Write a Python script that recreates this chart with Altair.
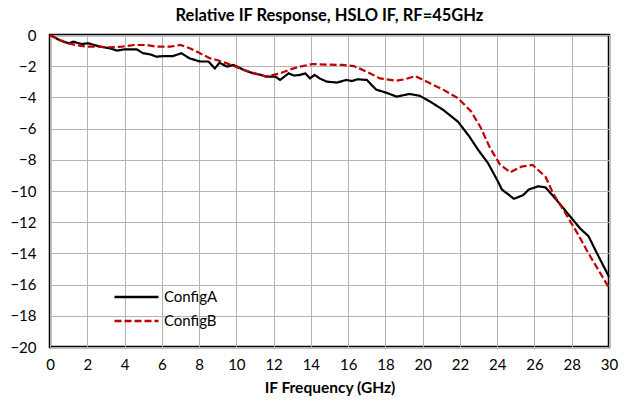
import altair as alt
import pandas as pd

series_names = ["ConfigA", "ConfigB"]

freq_a = [0, 0.5, 1.0, 1.25, 1.7, 2.05, 2.4, 2.7, 3.2, 3.6, 4.0, 4.65, 5.0, 5.4, 5.7, 6.1, 6.6,
          7.05, 7.5, 8.05, 8.5, 8.85, 9.1, 9.5, 9.85, 10.4, 10.9, 11.3, 11.6, 12.1, 12.35, 12.8,
          13.1, 13.4, 13.7, 13.95, 14.2, 14.5, 14.85, 15.4, 15.9, 16.2, 16.5, 17.0, 17.5, 18.05,
          18.6, 19.0, 19.3, 19.85, 20.4, 21.1, 21.9, 22.5, 23.0, 23.5, 24.0, 24.25, 24.9, 25.4,
          25.7, 26.2, 26.6, 27.2, 28.0, 28.45, 28.9, 29.4, 30.0]
resp_a = [0, -0.32, -0.53, -0.43, -0.58, -0.53, -0.65, -0.75, -0.85, -1.0, -0.92, -0.92, -1.17,
          -1.25, -1.39, -1.35, -1.35, -1.17, -1.5, -1.7, -1.7, -2.14, -1.78, -2.03, -1.92, -2.24,
          -2.46, -2.55, -2.67, -2.67, -2.88, -2.46, -2.6, -2.56, -2.46, -2.78, -2.56, -2.8, -2.99,
          -3.05, -2.88, -2.95, -2.84, -2.88, -3.5, -3.7, -3.95, -3.85, -3.78, -3.9, -4.27, -4.8,
          -5.56, -6.5, -7.4, -8.2, -9.3, -9.9, -10.5, -10.26, -9.9, -9.7, -9.77, -10.6, -11.75,
          -12.4, -12.9, -14.1, -15.5]

freq_b = [0, 0.7, 1.35, 2.0, 2.7, 3.2, 3.85, 4.5, 5.2, 5.7, 6.45, 7.0, 7.5, 8.05, 8.6, 8.95, 9.5,
          10.4, 11.6, 12.35, 12.9, 13.4, 14.1, 14.85, 15.7, 16.3, 17.0, 17.7, 18.6, 19.05, 19.6,
          20.4, 21.1, 21.9, 22.6, 23.1, 23.6, 24.15, 24.7, 25.3, 25.9, 26.6, 27.0, 27.7, 28.3,
          28.9, 29.5, 30.0]
resp_b = [0, -0.43, -0.64, -0.75, -0.75, -0.79, -0.75, -0.64, -0.64, -0.75, -0.75, -0.64, -0.85,
          -1.17, -1.5, -1.6, -1.82, -2.24, -2.67, -2.46, -2.2, -2.03, -1.86, -1.9, -1.92, -1.99,
          -2.35, -2.78, -2.93, -2.84, -2.63, -3.1, -3.5, -4.06, -4.9, -5.9, -7.2, -8.3, -8.8,
          -8.44, -8.33, -9.1, -10.15, -11.5, -12.7, -14.0, -15.2, -16.2]

x_ticks = list(range(0, 31, 2))
y_ticks = list(range(-20, 1, 2))

rows = []
for i, (f, r) in enumerate(zip(freq_a, resp_a)):
    rows.append({"freq": f, "resp": r, "series": series_names[0], "order": i})
for i, (f, r) in enumerate(zip(freq_b, resp_b)):
    rows.append({"freq": f, "resp": r, "series": series_names[1], "order": i})
df = pd.DataFrame(rows)

FONT = "Lato"

chart = alt.Chart(df).mark_line(strokeWidth=2.2).encode(
    x=alt.X("freq:Q", title="IF Frequency (GHz)",
            scale=alt.Scale(domain=[0, 30], nice=False),
            axis=alt.Axis(values=x_ticks, format="d", ticks=False, domain=False,
                          labelFlush=False, labelOverlap=False,
                          labelPadding=10, titlePadding=8, labelFontSize=15,
                          titleFontSize=15.5, titleFontWeight="bold",
                          gridColor="#b3b3b3", gridWidth=1, labelColor="black",
                          titleColor="black")),
    y=alt.Y("resp:Q", title=None,
            scale=alt.Scale(domain=[-20, 0], nice=False),
            axis=alt.Axis(values=y_ticks, format="d", ticks=False, domain=False,
                          labelFlush=False, labelOverlap=False,
                          labelPadding=14, labelFontSize=15,
                          gridColor="#b3b3b3", gridWidth=1, labelColor="black")),
    color=alt.Color("series:N", title=None,
                    scale=alt.Scale(domain=series_names, range=["#000000", "#c00000"]),
                    legend=alt.Legend(orient="none", legendX=63, legendY=253,
                                      symbolType="stroke", symbolSize=1936,
                                      symbolStrokeWidth=2.5, labelFontSize=15,
                                      labelColor="black", rowPadding=6, clipHeight=18,
                                      labelOffset=4)),
    strokeDash=alt.StrokeDash("series:N", title=None,
                              scale=alt.Scale(domain=series_names, range=[[1, 0], [7, 3]]),
                              legend=None),
    order="order:Q",
).properties(
    width=559,
    height=312,
    title=alt.TitleParams("Relative IF Response, HSLO IF, RF=45GHz", fontSize=16.5,
                          fontWeight="bold", anchor="middle", offset=4, color="black"),
    autosize=alt.AutoSizeParams(type="none"),
    padding={"left": 42, "top": 27, "right": 13, "bottom": 56},
).configure(
    font=FONT,
).configure_view(
    stroke="black", strokeWidth=2.5
)

chart.save("out.html", embed_options={"renderer": "svg", "actions": False})
